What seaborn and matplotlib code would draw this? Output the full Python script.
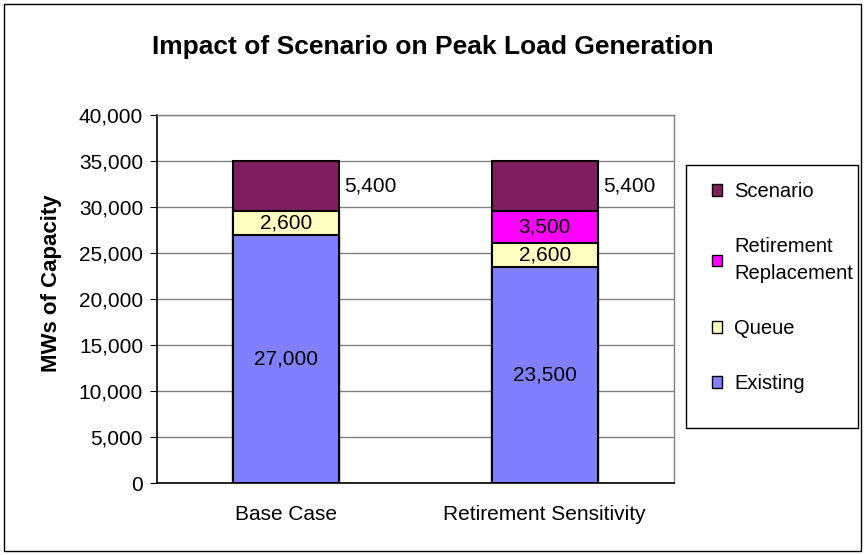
import matplotlib
matplotlib.use("Agg")
import matplotlib.pyplot as plt
import seaborn as sns
import pandas as pd
from matplotlib.patches import Rectangle, Patch
from matplotlib.ticker import FuncFormatter

categories = ['Base Case', 'Retirement Sensitivity']
existing = [27000, 23500]
queue = [2600, 2600]
retirement = [0, 3500]
scenario = [5400, 5400]

series_names = ['Existing', 'Queue', 'Retirement\nReplacement', 'Scenario']
series_vals = [existing, queue, retirement, scenario]
colors = ['#8080FF', '#FFFFC0', '#FF00FF', '#7F1F5F']

sns.set_style('white')
plt.rcParams['font.family'] = ['Liberation Sans', 'DejaVu Sans']
for k in ['text.color', 'axes.labelcolor', 'xtick.color', 'ytick.color']:
    plt.rcParams[k] = 'black'

fig = plt.figure(figsize=(8.65, 5.55), dpi=100)
ax = fig.add_axes([0.1815, 0.1297, 0.5975, 0.6631])

df = pd.DataFrame({'category': categories})
cum = [0, 0]
bottoms = []
for vals in series_vals:
    bottoms.append(list(cum))
    cum = [c + v for c, v in zip(cum, vals)]

# draw cumulative bars from the top layer down so lower segments overlay
running = list(cum)
for name, vals, col in reversed(list(zip(series_names, series_vals, colors))):
    df['h'] = running
    sns.barplot(x='category', y='h', data=df, color=col, width=0.41,
                edgecolor='black', linewidth=1.5, saturation=1, ax=ax, zorder=3)
    running = [r - v for r, v in zip(running, vals)]

# segment labels
for i in range(len(categories)):
    for j, vals in enumerate(series_vals):
        v = vals[i]
        if v == 0:
            continue
        mid = bottoms[j][i] + v / 2
        if series_names[j] == 'Scenario':
            ax.text(i + 0.225, mid, f'{v:,}', ha='left', va='center', fontsize=15, zorder=5)
        else:
            ax.text(i, mid, f'{v:,}', ha='center', va='center', fontsize=15, zorder=5)

ax.set_xlim(-0.5, 1.5)
ax.set_ylim(0, 40000)
ax.set_yticks(range(0, 40001, 5000))
ax.yaxis.set_major_formatter(FuncFormatter(lambda v, p: f'{int(v):,}'))
ax.grid(axis='y', color='#808080', linewidth=1, zorder=0)
ax.set_axisbelow(True)
ax.tick_params(axis='both', labelsize=15, length=5, direction='out', color='black')
ax.tick_params(axis='x', length=0, pad=16)
ax.tick_params(axis='y', left=True, pad=5)
for s in ['top', 'right']:
    ax.spines[s].set_color('#808080')
    ax.spines[s].set_linewidth(1)
for s in ['left', 'bottom']:
    ax.spines[s].set_color('black')
    ax.spines[s].set_linewidth(1.2)
ax.set_xlabel('')
ax.set_ylabel('MWs of Capacity', fontsize=16, fontweight='bold')
ax.yaxis.set_label_coords(-0.183, 0.543)

fig.suptitle('Impact of Scenario on Peak Load Generation', fontsize=19,
             fontweight='bold', y=0.937, va='top')

handles = [Patch(facecolor=c, edgecolor='black', linewidth=1) for c in colors]
leg = fig.legend(handles[::-1], series_names[::-1], loc='upper left',
                 bbox_to_anchor=(0.823, 0.672), fontsize=14.5, frameon=False,
                 handlelength=0.5, handleheight=0.5, handletextpad=0.62,
                 labelspacing=1.8, borderpad=0, borderaxespad=0)
for t in leg.get_texts():
    t.set_linespacing(1.5)

# legend box
fig.patches.append(Rectangle((0.793, 0.2288), 0.1988, 0.474, transform=fig.transFigure,
                             fill=False, edgecolor='black', linewidth=1))
# chart area border
fig.patches.append(Rectangle((0.005, 0.008), 0.99, 0.985, transform=fig.transFigure,
                             fill=False, edgecolor='black', linewidth=1))

fig.savefig('out.png', dpi=100)
